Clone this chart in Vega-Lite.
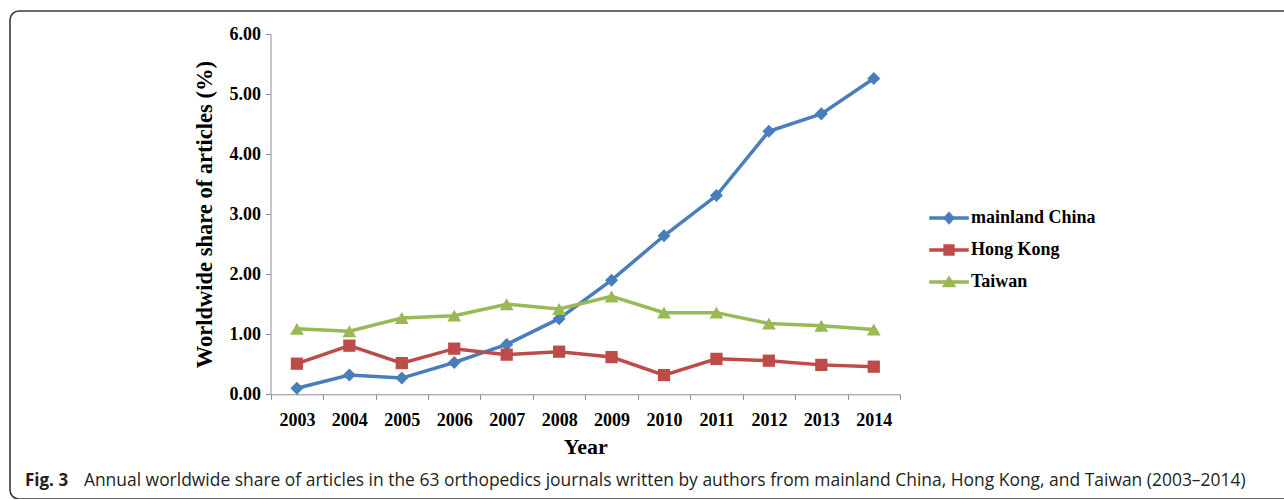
{
  "$schema": "https://vega.github.io/schema/vega-lite/v6.json",
  "autosize": "none",
  "padding": {"left": 10, "top": 11, "right": 0, "bottom": 0},
  "width": 1290,
  "height": 488,
  "background": "white",
  "config": {
    "view": {"stroke": "#3a3a3a", "strokeWidth": 1.6, "cornerRadius": 9},
    "axis": {
      "labelFont": "Liberation Serif", "labelFontWeight": "bold", "labelFontSize": 18, "labelColor": "#000",
      "titleFont": "Liberation Serif", "titleFontWeight": "bold", "titleColor": "#000",
      "domainColor": "#8c8c8c", "tickColor": "#8c8c8c", "tickSize": 5, "grid": false
    }
  },
  "title": {
    "text": "Fig. 3",
    "subtitle": "\u200b\u00a0\u00a0\u00a0\u00a0\u00a0\u00a0\u00a0\u00a0\u00a0\u00a0\u00a0\u00a0\u00a0Annual worldwide share of articles in the 63 orthopedics journals written by authors from mainland China, Hong Kong, and Taiwan (2003–2014)",
    "orient": "bottom", "anchor": "start", "frame": "group",
    "offset": -13, "dx": 15,
    "baseline": "alphabetic",
    "font": "Open Sans", "fontSize": 17, "fontWeight": "bold", "color": "#231f20",
    "subtitleFont": "Open Sans", "subtitleFontSize": 17.45, "subtitleFontWeight": "normal", "subtitleColor": "#231f20",
    "subtitlePadding": -17
  },
  "data": {"values": [
    {"year": "2003", "region": "mainland China", "share": 0.10},
    {"year": "2004", "region": "mainland China", "share": 0.32},
    {"year": "2005", "region": "mainland China", "share": 0.27},
    {"year": "2006", "region": "mainland China", "share": 0.53},
    {"year": "2007", "region": "mainland China", "share": 0.83},
    {"year": "2008", "region": "mainland China", "share": 1.26},
    {"year": "2009", "region": "mainland China", "share": 1.90},
    {"year": "2010", "region": "mainland China", "share": 2.64},
    {"year": "2011", "region": "mainland China", "share": 3.31},
    {"year": "2012", "region": "mainland China", "share": 4.38},
    {"year": "2013", "region": "mainland China", "share": 4.67},
    {"year": "2014", "region": "mainland China", "share": 5.26},
    {"year": "2003", "region": "Hong Kong", "share": 0.51},
    {"year": "2004", "region": "Hong Kong", "share": 0.81},
    {"year": "2005", "region": "Hong Kong", "share": 0.52},
    {"year": "2006", "region": "Hong Kong", "share": 0.76},
    {"year": "2007", "region": "Hong Kong", "share": 0.66},
    {"year": "2008", "region": "Hong Kong", "share": 0.71},
    {"year": "2009", "region": "Hong Kong", "share": 0.62},
    {"year": "2010", "region": "Hong Kong", "share": 0.32},
    {"year": "2011", "region": "Hong Kong", "share": 0.59},
    {"year": "2012", "region": "Hong Kong", "share": 0.56},
    {"year": "2013", "region": "Hong Kong", "share": 0.49},
    {"year": "2014", "region": "Hong Kong", "share": 0.46},
    {"year": "2003", "region": "Taiwan", "share": 1.09},
    {"year": "2004", "region": "Taiwan", "share": 1.05},
    {"year": "2005", "region": "Taiwan", "share": 1.27},
    {"year": "2006", "region": "Taiwan", "share": 1.31},
    {"year": "2007", "region": "Taiwan", "share": 1.50},
    {"year": "2008", "region": "Taiwan", "share": 1.42},
    {"year": "2009", "region": "Taiwan", "share": 1.63},
    {"year": "2010", "region": "Taiwan", "share": 1.36},
    {"year": "2011", "region": "Taiwan", "share": 1.36},
    {"year": "2012", "region": "Taiwan", "share": 1.18},
    {"year": "2013", "region": "Taiwan", "share": 1.14},
    {"year": "2014", "region": "Taiwan", "share": 1.08}
  ]},
  "encoding": {
    "x": {
      "field": "year", "type": "ordinal",
      "scale": {"type": "band", "range": [260.7, 890], "paddingInner": 0, "paddingOuter": 0},
      "axis": {"orient": "bottom", "offset": -104.7, "tickBand": "extent", "labelAngle": 0, "labelPadding": 12,
               "title": "Year", "titleFontSize": 22, "titlePadding": 7}
    },
    "y": {
      "field": "share", "type": "quantitative",
      "scale": {"domain": [0, 6], "range": [383.3, 23], "nice": false},
      "axis": {"orient": "left", "offset": -260.5, "values": [0, 1, 2, 3, 4, 5, 6], "format": ".2f", "labelPadding": 5,
               "title": "Worldwide share of articles (%)", "titleFontSize": 22.5, "titlePadding": 13}
    },
    "color": {
      "field": "region", "type": "nominal",
      "scale": {"domain": ["mainland China", "Hong Kong", "Taiwan"], "range": ["#4a7ebb", "#be4b48", "#98b954"]}
    }
  },
  "layer": [
    {
      "mark": {"type": "line", "strokeWidth": 3.5},
      "encoding": {
        "color": {
          "field": "region", "type": "nominal",
          "legend": {
            "orient": "none", "legendX": 930, "legendY": 198, "title": null,
            "symbolSize": 225, "symbolStrokeWidth": 0.5, "symbolType": "stroke",
            "labelFont": "Liberation Serif", "labelFontWeight": "bold", "labelFontSize": 18, "labelColor": "#000",
            "labelOffset": 13, "rowPadding": 14, "padding": 0,
            "encode": {
              "symbols": {
                "update": {
                  "shape": {"signal": "datum.value === 'mainland China' ? 'M-2.6,-0.2L2.6,-0.2L2.6,0.2L-2.6,0.2Z M0,-0.85L0.75,0L0,0.85L-0.75,0Z' : (datum.value === 'Hong Kong' ? 'M-2.6,-0.2L2.6,-0.2L2.6,0.2L-2.6,0.2Z M-0.72,-0.72L0.72,-0.72L0.72,0.72L-0.72,0.72Z' : 'M-2.6,-0.2L2.6,-0.2L2.6,0.2L-2.6,0.2Z M0,-0.85L0.92,0.65L-0.92,0.65Z')"},
                  "fill": {"signal": "datum.value === 'mainland China' ? '#4a7ebb' : (datum.value === 'Hong Kong' ? '#be4b48' : '#98b954')"},
                  "stroke": {"signal": "datum.value === 'mainland China' ? '#4a7ebb' : (datum.value === 'Hong Kong' ? '#be4b48' : '#98b954')"},
                  "strokeWidth": {"value": 0.5},
                  "opacity": {"value": 1}
                }
              }
            }
          }
        }
      }
    },
    {
      "transform": [{"filter": "datum.region === 'mainland China'"}],
      "mark": {"type": "point", "shape": "diamond", "filled": true, "opacity": 1, "size": 170},
      "encoding": {"color": {"field": "region", "type": "nominal", "legend": null}}
    },
    {
      "transform": [{"filter": "datum.region === 'Hong Kong'"}],
      "mark": {"type": "point", "shape": "square", "filled": true, "opacity": 1, "size": 150},
      "encoding": {"color": {"field": "region", "type": "nominal", "legend": null}}
    },
    {
      "transform": [{"filter": "datum.region === 'Taiwan'"}],
      "mark": {"type": "point", "shape": "triangle-up", "filled": true, "opacity": 1, "size": 190},
      "encoding": {"color": {"field": "region", "type": "nominal", "legend": null}}
    }
  ]
}
